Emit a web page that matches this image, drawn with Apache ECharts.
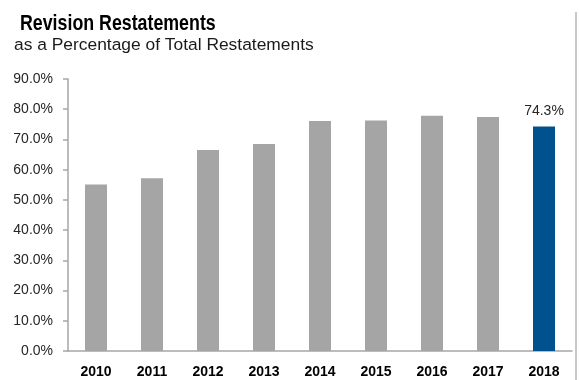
<!DOCTYPE html>
<html>
<head>
<meta charset="utf-8">
<script src="https://cdn.jsdelivr.net/npm/echarts@6/dist/echarts.min.js"></script>
<style>
  html, body { margin: 0; padding: 0; background: #ffffff; }
  #chart { width: 579px; height: 380px; }
</style>
</head>
<body>
<div id="chart"></div>
<script>
// Revision restatements as a share of all restatements, by year (%)
var years = ['2010', '2011', '2012', '2013', '2014', '2015', '2016', '2017', '2018'];
var revisionShare = [55.1, 57.2, 66.5, 68.5, 76.1, 76.3, 77.8, 77.4, 74.3];
var yTicks = [0, 10, 20, 30, 40, 50, 60, 70, 80, 90];

var GREY = '#a5a5a5';
var BLUE = '#00518e';
var latest = years.length - 1;

var chart = echarts.init(document.getElementById('chart'), null, { renderer: 'canvas' });

chart.setOption({
  animation: false,
  backgroundColor: '#ffffff',
  graphic: [
    {
      // condensed bold headline
      type: 'text', x: 20, y: 13, scaleX: 0.82,
      style: {
        text: 'Revision Restatements',
        font: 'bold 21.7px "Liberation Sans", Arial, sans-serif',
        fill: '#000000'
      }
    },
    {
      type: 'text', x: 14, y: 37,
      style: {
        text: 'as a Percentage of Total Restatements',
        font: '17.4px "Liberation Sans", Arial, sans-serif',
        fill: '#1a1a1a'
      }
    },
    {
      type: 'line',
      shape: { x1: 576, y1: 12, x2: 576, y2: 380 },
      style: { stroke: '#c8c8c8', lineWidth: 2 }
    }
  ],
  grid: { left: 68, width: 504, top: 79, height: 272, containLabel: false },
  xAxis: {
    type: 'category',
    data: years,
    axisLine: { lineStyle: { color: '#a6a6a6', width: 1.5 } },
    axisTick: { show: false },
    axisLabel: {
      margin: 14,
      color: '#000000',
      fontFamily: '"Liberation Sans", Arial, sans-serif',
      fontWeight: 'bold',
      fontSize: 14
    }
  },
  yAxis: {
    type: 'value',
    min: yTicks[0],
    max: yTicks[yTicks.length - 1],
    interval: yTicks[1] - yTicks[0],
    splitLine: { show: false },
    axisLine: { show: true, lineStyle: { color: '#a6a6a6', width: 1.5 } },
    axisTick: { show: true, length: 5, lineStyle: { color: '#a6a6a6', width: 1.5 } },
    axisLabel: {
      margin: 15,
      color: '#262626',
      fontFamily: '"Liberation Sans", Arial, sans-serif',
      fontSize: 14,
      formatter: function (v) { return v.toFixed(1) + '%'; }
    }
  },
  series: [{
    type: 'bar',
    barWidth: 22,
    data: revisionShare.map(function (v, i) {
      var item = { value: v, itemStyle: { color: i === latest ? BLUE : GREY } };
      if (i === latest) {
        item.label = {
          show: true,
          position: 'top',
          distance: 8,
          color: '#262626',
          fontFamily: '"Liberation Sans", Arial, sans-serif',
          fontSize: 14,
          formatter: function (p) { return p.value.toFixed(1) + '%'; }
        };
      }
      return item;
    })
  }]
});
</script>
</body>
</html>
